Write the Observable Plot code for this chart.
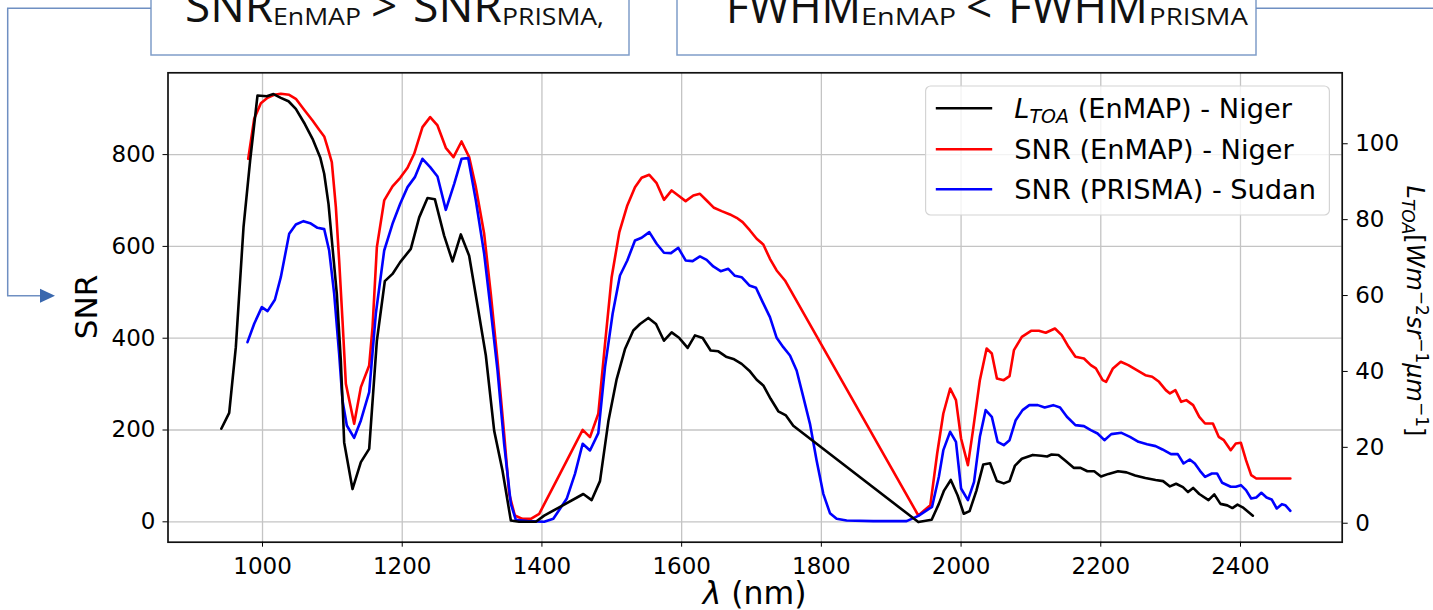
<!DOCTYPE html>
<html>
<head>
<meta charset="utf-8">
<script src="https://cdn.jsdelivr.net/npm/d3@7"></script>
<script src="https://cdn.jsdelivr.net/npm/@observablehq/plot@0.6"></script>
<style>
html, body { margin: 0; padding: 0; background: #fff; }
#chart { position: relative; width: 1433px; height: 610px; overflow: hidden; }
#chart svg { display: block; }
</style>
</head>
<body>
<div id="chart"></div>
<script>
// ---- Data ----
const ltoaWavelength = [941.0,952.3,961.8,972.8,982.3,992.8,1006.2,1015.7,1026.2,1037.2,1047.7,1060.6,1071.6,1082.6,1088.3,1094.5,1100.2,1106.4,1112.1,1116.9,1128.8,1140.8,1152.7,1163.7,1175.1,1186.1,1197.1,1212.3,1224.3,1236.2,1246.7,1260.0,1272.0,1283.9,1295.8,1307.8,1319.7,1331.6,1343.5,1355.5,1367.4,1391.3,1403.2,1424.7,1459.2,1471.2,1483.1,1495.3,1507.0,1518.9,1530.8,1540.4,1552.3,1563.3,1574.7,1585.7,1596.7,1608.6,1619.1,1630.1,1641.5,1652.5,1663.5,1674.0,1685.9,1696.9,1707.4,1716.9,1727.4,1738.4,1749.3,1759.8,1938.8,1957.9,1968.2,1975.6,1985.3,1995.1,2003.9,2012.2,2022.0,2031.8,2041.5,2051.3,2061.1,2069.4,2077.2,2087.0,2102.6,2114.8,2123.1,2129.5,2139.3,2149.0,2161.2,2171.0,2180.8,2190.6,2200.3,2211.1,2224.7,2236.9,2249.2,2263.8,2278.5,2289.2,2299.0,2307.8,2317.6,2324.9,2332.2,2341.0,2354.2,2362.5,2371.3,2381.1,2388.4,2395.7,2403.1,2417.7];
const ltoaValue = [24.9,29.1,46.4,78.0,95.6,112.7,112.5,113.1,112.1,111.2,109.2,105.2,101.3,96.4,92.1,84.1,72.7,60.4,42.9,21.3,9.0,16.1,19.6,48.1,63.8,65.7,68.8,72.3,80.6,85.7,85.4,75.8,69.0,76.1,70.5,57.4,44.2,24.4,13.9,0.7,0.4,0.4,2.0,4.2,7.7,6.1,11.1,27.1,38.0,45.9,50.8,52.5,54.1,52.5,48.1,50.3,48.8,46.2,49.5,48.8,45.5,45.3,43.9,43.3,42.0,40.2,37.8,36.3,32.8,29.5,28.4,25.7,0.3,0.9,5.1,8.6,11.4,7.3,2.5,3.2,8.6,15.5,15.8,11.1,10.5,11.1,15.2,17.0,18.0,17.8,17.6,18.1,18.0,16.5,14.6,14.6,13.7,13.7,12.3,13.0,13.7,13.4,12.6,11.9,11.4,11.1,9.7,10.4,9.5,8.2,9.3,7.7,6.1,7.6,5.1,4.7,4.0,4.9,4.2,2.0];

const snrEnmapWavelength = [979.5,988.1,997.6,1007.2,1016.7,1026.2,1038.2,1047.7,1059.6,1071.6,1081.1,1088.3,1093.0,1099.2,1105.0,1109.7,1114.5,1119.3,1131.2,1140.8,1152.7,1157.5,1163.7,1174.2,1186.1,1197.1,1207.6,1217.1,1229.0,1240.0,1250.5,1262.4,1273.4,1284.9,1295.8,1305.4,1317.3,1326.8,1336.4,1345.9,1353.1,1361.2,1372.2,1384.1,1396.1,1425.8,1458.3,1468.8,1480.7,1490.3,1499.8,1510.8,1522.2,1533.2,1542.7,1553.7,1564.2,1574.7,1585.7,1595.2,1605.7,1616.7,1626.2,1635.8,1646.3,1657.3,1669.2,1678.7,1687.3,1697.8,1707.4,1716.9,1726.4,1736.0,1747.9,1938.8,1956.0,1965.8,1974.6,1984.4,1992.7,2000.0,2009.8,2017.1,2026.9,2036.6,2044.0,2051.3,2061.1,2069.4,2075.7,2087.0,2100.2,2111.4,2121.2,2134.4,2144.1,2153.9,2163.7,2175.9,2185.7,2193.0,2202.7,2207.6,2217.4,2228.6,2239.4,2251.6,2263.8,2273.6,2283.4,2293.1,2299.0,2306.8,2315.1,2322.4,2332.2,2341.0,2349.3,2360.5,2368.8,2376.2,2386.0,2393.3,2400.6,2407.9,2415.3,2422.6,2471.4];
const snrEnmapValue = [790.8,878,912,923.8,930.3,932.6,930.3,921.6,897.6,874.4,854,839.5,816.3,783.6,685.5,569.4,438.6,300.7,213.5,293.4,340.6,424.1,598.4,700.1,730.6,749.5,771.2,801.7,859.8,881.6,863.5,814.8,794.5,828.6,794.5,729.1,627.4,496.7,351.5,191.7,61,13.8,6.5,6.5,17.4,104.6,200.4,184.5,235.3,387.8,533,631.1,689.2,729.1,749.5,756,737.8,701.5,721.9,711,698.6,711,714.6,700.1,684.1,676.8,669.6,662.3,652.9,634.7,616.6,604.2,573,547.6,525.8,13.8,36.3,148.9,236,290.5,265,181.6,123.5,199.7,308.6,377.6,366.7,312.3,308.6,317.4,374,403,416.1,416.1,411.8,421.2,406.7,381.3,359.5,355.8,341.3,334.1,308.6,305,334.1,348.6,341.3,330.4,319.5,315.9,305,286.9,279.6,286.9,261.4,265.1,254.2,228.8,214.2,214.2,185.2,177.9,156.1,170.7,172.1,134.3,101.7,94.4,94.4];

const snrPrismaWavelength = [978.5,988.1,999.0,1007.2,1017.7,1026.2,1038.2,1047.7,1058.7,1068.2,1078.7,1088.3,1095.4,1102.6,1109.7,1114.5,1120.7,1131.2,1140.8,1152.7,1162.2,1174.2,1186.1,1197.1,1207.6,1218.1,1229.0,1240.0,1250.5,1262.4,1274.4,1284.9,1294.4,1305.4,1317.3,1326.8,1336.4,1345.9,1355.5,1362.6,1379.3,1403.2,1416.3,1435.4,1447.3,1458.3,1468.8,1480.7,1490.3,1501.2,1511.7,1522.2,1533.2,1542.7,1553.7,1564.2,1574.7,1584.7,1595.2,1605.7,1615.7,1626.2,1635.8,1645.3,1655.8,1666.8,1676.3,1685.9,1696.9,1706.4,1716.0,1726.4,1736.0,1745.5,1755.1,1764.6,1774.2,1783.7,1793.2,1802.8,1812.3,1821.9,1836.2,1874.4,1922.0,1938.9,1958.5,1968.2,1974.6,1984.4,1992.7,2000.0,2009.8,2018.6,2026.9,2035.2,2044.0,2052.3,2061.1,2069.4,2078.2,2088.0,2097.7,2109.9,2119.7,2131.9,2141.7,2151.5,2163.7,2175.9,2185.7,2195.4,2205.2,2215.0,2229.6,2241.8,2254.0,2266.3,2278.5,2288.3,2300.5,2310.2,2318.5,2327.3,2334.6,2342.0,2349.3,2359.1,2366.4,2373.8,2386.0,2393.3,2400.6,2407.9,2415.3,2422.6,2429.9,2437.3,2444.6,2451.9,2459.3,2464.1,2471.4];
const snrPrismaValue = [391.4,431.4,467.7,459,483.7,533,627.5,647.8,655,650.7,640.5,637.6,591.1,496.7,366,264.3,209.9,183,220.8,282.5,453.2,591.1,649.2,692.8,729.1,750.9,790.8,772.7,752.4,679.7,736.4,790.8,792.3,700.1,583.9,460.4,329.7,169.9,39.2,4.4,1.5,0,6.5,50.1,104.6,170,155.4,193.2,337,453.2,536.7,569.4,612.9,618.7,631.1,605.7,586.1,585.3,597,569.4,567.9,578.1,570.8,556.3,546.1,551.2,536,533,514.9,509.8,478.6,445.9,400.9,380.5,362.4,329.7,271.6,213.5,133.6,61,18.9,6.5,2.9,1.5,1.5,13,32.7,98,156.1,196.1,174.3,72.6,47.2,87.1,185.2,243.3,228.8,174.3,167,177.9,221.5,243.3,254.2,254.2,249.1,254.2,249.1,228.8,210.6,208.4,199.7,192.4,177.9,191,193.9,185.2,174.3,169.2,164.9,157.6,147.4,147.4,127.1,135.8,127.1,111.1,98,105.3,105.3,85,76.3,76.3,79.9,69,50.8,53,63.2,53,48.7,29,38.5,36.3,24];

const xTicks = [1000, 1200, 1400, 1600, 1800, 2000, 2200, 2400];
const snrTicks = [0, 200, 400, 600, 800];
const ltoaTicks = [0, 20, 40, 60, 80, 100];
const seriesNames = ["(EnMAP) - Niger", "SNR (EnMAP) - Niger", "SNR (PRISMA) - Sudan"];
const seriesColors = ["#000000", "#ff0000", "#0000ff"];

// ---- Scales ----
const xDomain = [864.7, 2545.6];
const snrDomain = [-44.4, 978.2];
const ltoaDomain = [-5.0, 118.7];
const kL = (snrDomain[1] - snrDomain[0]) / (ltoaDomain[1] - ltoaDomain[0]);
const toSnr = v => snrDomain[0] + (v - ltoaDomain[0]) * kL;
const fromSnr = s => ltoaDomain[0] + (s - snrDomain[0]) / kL;

const ltoaData = ltoaWavelength.map((w, i) => ({x: w, y: toSnr(ltoaValue[i])}));
const enmapData = snrEnmapWavelength.map((w, i) => ({x: w, y: snrEnmapValue[i]}));
const prismaData = snrPrismaWavelength.map((w, i) => ({x: w, y: snrPrismaValue[i]}));

const lw = 2.6;
const gridStyle = {stroke: "#c4c4c4", strokeOpacity: 1, strokeWidth: 1.3};

const plot = Plot.plot({
  width: 1433,
  height: 610,
  marginLeft: 167.5,
  marginRight: 91.3,
  marginTop: 72.3,
  marginBottom: 68.3,
  style: {fontFamily: "DejaVu Sans", fontSize: "23px", color: "#000", background: "transparent"},
  x: {domain: xDomain, axis: null},
  y: {domain: snrDomain, axis: null},
  marks: [
    Plot.gridX(xTicks, gridStyle),
    Plot.gridY(snrTicks, gridStyle),
    Plot.line(enmapData, {x: "x", y: "y", stroke: seriesColors[1], strokeWidth: lw, strokeLinejoin: "round"}),
    Plot.line(prismaData, {x: "x", y: "y", stroke: seriesColors[2], strokeWidth: lw, strokeLinejoin: "round"}),
    Plot.line(ltoaData, {x: "x", y: "y", stroke: seriesColors[0], strokeWidth: lw, strokeLinejoin: "round"}),
    Plot.frame({stroke: "#111", strokeWidth: 1.7}),
    Plot.axisX(xTicks, {anchor: "bottom", tickSize: 5, tickPadding: 10, label: null, tickFormat: d => String(d)}),
    Plot.axisY(snrTicks, {anchor: "left", tickSize: 5, tickPadding: 7.5, label: null, tickFormat: d => String(d)}),
    Plot.axisY(ltoaTicks.map(toSnr), {anchor: "right", tickSize: 5, tickPadding: 8, label: null, tickFormat: d => String(Math.round(fromSnr(d)))})
  ]
});

document.getElementById("chart").appendChild(plot);

const svg = d3.select(plot);
const math = "DejaVu Sans";

// ---- Axis labels ----
const xl = svg.append("text").attr("x", 754.6).attr("y", 604).attr("text-anchor", "middle")
  .attr("font-family", math).attr("font-size", 31.5).attr("fill", "#000");
xl.append("tspan").attr("font-style", "italic").text("λ");
xl.append("tspan").text(" (nm)");

svg.append("text").attr("transform", "translate(97.3,307) rotate(-90)").attr("text-anchor", "middle")
  .attr("font-family", math).attr("font-size", 31).attr("fill", "#000").text("SNR");

const rl = svg.append("text").attr("transform", "translate(1407,311) rotate(90)").attr("text-anchor", "middle")
  .attr("font-family", math).attr("font-size", 24).attr("fill", "#000");
rl.append("tspan").attr("font-style", "italic").text("L");
rl.append("tspan").attr("font-style", "italic").attr("font-size", 17).attr("dy", 5).text("TOA");
rl.append("tspan").attr("dy", -5).text("[");
rl.append("tspan").attr("font-style", "italic").text("Wm");
rl.append("tspan").attr("font-size", 17).attr("dy", -9).text("−2");
rl.append("tspan").attr("font-style", "italic").attr("dy", 9).text("sr");
rl.append("tspan").attr("font-size", 17).attr("dy", -9).text("−1");
rl.append("tspan").attr("font-style", "italic").attr("dy", 9).text("μm");
rl.append("tspan").attr("font-size", 17).attr("dy", -9).text("−1");
rl.append("tspan").attr("dy", 9).text("]");

// ---- Legend ----
const lg = svg.append("g").attr("text-anchor", "start");
lg.append("rect").attr("x", 925.6).attr("y", 86).attr("width", 403.8).attr("height", 129).attr("rx", 5)
  .attr("fill", "#fff").attr("fill-opacity", 0.8).attr("stroke", "#d4d4d4").attr("stroke-width", 1.2);
const rows = [108.3, 149.3, 189.3];
rows.forEach((ry, i) => {
  lg.append("line").attr("x1", 935.8).attr("x2", 992.2).attr("y1", ry).attr("y2", ry)
    .attr("stroke", seriesColors[i]).attr("stroke-width", lw);
  const t = lg.append("text").attr("x", 1014.3).attr("y", ry + 9.8).attr("text-anchor", "start")
    .attr("font-family", math).attr("font-size", 27.2).attr("fill", "#000");
  if (i === 0) {
    t.append("tspan").attr("font-style", "italic").text("L");
    t.append("tspan").attr("font-style", "italic").attr("font-size", 19).attr("dy", 5).text("TOA");
    t.append("tspan").attr("dy", -5).text(" " + seriesNames[0]);
  } else {
    t.text(seriesNames[i]);
  }
});

// ---- Top annotations ----
const ann = svg.append("g").attr("text-anchor", "start");
const boxStroke = "#7f9dc9";
ann.append("rect").attr("x", 151).attr("y", -20).attr("width", 478).attr("height", 75)
  .attr("fill", "#fff").attr("stroke", boxStroke).attr("stroke-width", 1.5);
ann.append("rect").attr("x", 677).attr("y", -20).attr("width", 579).attr("height", 75)
  .attr("fill", "#fff").attr("stroke", boxStroke).attr("stroke-width", 1.5);
ann.append("polyline").attr("points", "151,8.3 7.7,8.3 7.7,295.7 42,295.7")
  .attr("fill", "none").attr("stroke", "#6f8fc2").attr("stroke-width", 1.5);
ann.append("polygon").attr("points", "40,288.7 55,295.7 40,302.7").attr("fill", "#3a68ae");
ann.append("line").attr("x1", 1256).attr("x2", 1433).attr("y1", 8.3).attr("y2", 8.3)
  .attr("stroke", "#6f8fc2").attr("stroke-width", 1.5);

const annFont = "Open Sans";
function seg(x, y, size, str, len) {
  const t = ann.append("text").attr("x", x).attr("y", y).attr("text-anchor", "start")
    .attr("font-family", annFont).attr("font-size", size).attr("fill", "#111").text(str);
  if (len) t.attr("textLength", len).attr("lengthAdjust", "spacingAndGlyphs");
}
seg(185, 21.7, 46, "SNR", 88);
seg(273, 25, 23, "EnMAP", 88);
seg(371, 21.7, 46, ">");
seg(413, 21.7, 46, "SNR", 89);
seg(502, 25, 23, "PRISMA,", 102);
seg(726, 22.7, 46, "FWHM", 135);
seg(861, 25, 23, "EnMAP", 95);
seg(966, 22.7, 46, "<");
seg(1008, 22.7, 46, "FWHM", 140);
seg(1149, 25, 23, "PRISMA", 99);
</script>
</body>
</html>
